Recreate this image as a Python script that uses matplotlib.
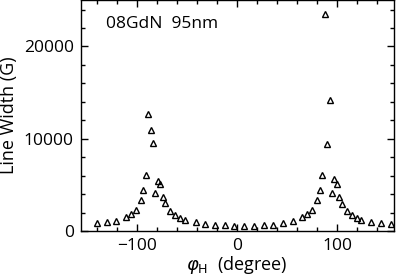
import numpy as np
import matplotlib
matplotlib.use('Agg')
import matplotlib.pyplot as plt
from matplotlib.ticker import MultipleLocator

plt.rcParams['font.family'] = ['Open Sans', 'DejaVu Sans']
plt.rcParams['mathtext.fontset'] = 'dejavusans'

# angulo (grados) y ancho de linea (G)
phi = [-140.6, -130.6, -121.0, -111.3, -106.3, -101.3, -96.6, -94.0, -91.6, -89.0,
       -86.6, -84.3, -82.0, -79.3, -77.0, -74.6, -72.0, -67.3, -62.3, -57.3,
       -52.3, -41.6, -32.0, -22.3, -12.6, -3.0, 6.7, 16.7, 26.4, 36.0,
       45.7, 55.4, 65.0, 70.0, 75.0, 80.0, 82.4, 84.7, 87.6, 90.0,
       92.4, 94.7, 97.0, 99.7, 102.0, 104.4, 109.4, 114.4, 119.4, 124.0,
       133.7, 143.7, 153.4]
ancho = [900, 970, 1080, 1510, 1830, 2300, 3350, 4390, 6110, 12700,
         10970, 9530, 4170, 5470, 5040, 3700, 2990, 2160, 1730, 1440,
         1150, 970, 790, 650, 610, 580, 580, 580, 650, 680,
         860, 1080, 1510, 1830, 2300, 3350, 4390, 6110, 23490, 9390,
         14240, 4140, 5680, 5040, 3700, 2950, 2160, 1730, 1440, 1190,
         970, 830, 720]

fig = plt.figure(figsize=(4.09, 2.76), dpi=100)
ax = fig.add_axes([0.197, 0.163, 0.766, 0.836])
ax.plot(phi, ancho, '^', ms=4.6, mfc='none', mec='black', mew=1.0)

ax.set_xlim(-156.6, 156.7)
ax.set_ylim(0, 25000)
ax.xaxis.set_major_locator(MultipleLocator(100))
ax.xaxis.set_minor_locator(MultipleLocator(20))
ax.yaxis.set_major_locator(MultipleLocator(10000))
ax.yaxis.set_minor_locator(MultipleLocator(2000))
ax.tick_params(which='both', direction='in', top=True, right=True, labelsize=12.5, width=1)
ax.tick_params(which='major', length=5, pad=5)
ax.tick_params(which='minor', length=3)
for s in ax.spines.values():
    s.set_linewidth(1)

ax.set_xlabel(r'$\varphi_{\rm H}$  (degree)', fontsize=13, labelpad=0)
ax.set_ylabel('Line Width (G)', fontsize=13)
ax.yaxis.set_label_coords(-0.20, 0.5)
ax.text(0.08, 0.93, '08GdN  95nm', transform=ax.transAxes, fontsize=12.5, va='top', ha='left')

plt.savefig('out.png', dpi=100)
